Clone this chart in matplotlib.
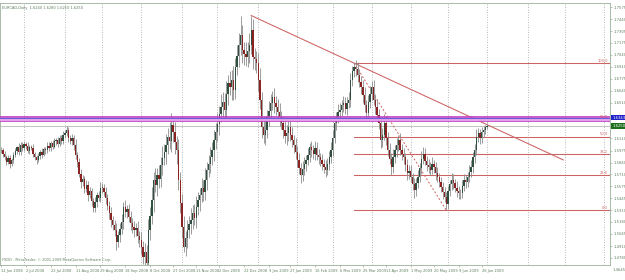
import numpy as np
import pandas as pd
import matplotlib
matplotlib.use("Agg")
import matplotlib.pyplot as plt
from matplotlib.transforms import blended_transform_factory

# EURCAD daily bars, 12 Jun 2008 .. 1 Jul 2009 (closes)
dates = pd.bdate_range("2008-06-12", "2009-07-01")
closes = [
    # Jun 2008
    1.598, 1.594, 1.590, 1.585, 1.589, 1.583, 1.587, 1.592, 1.597, 1.601, 1.596, 1.604, 1.600,
    # Jul
    1.605, 1.603, 1.597, 1.601, 1.600, 1.594, 1.590, 1.587, 1.591, 1.596, 1.593, 1.599, 1.598,
    1.603, 1.600, 1.606, 1.602, 1.608, 1.609, 1.605, 1.612, 1.608, 1.615,
    # Aug
    1.617, 1.620, 1.612, 1.608, 1.611, 1.604, 1.592, 1.585, 1.571, 1.562, 1.566, 1.555, 1.559,
    1.548, 1.552, 1.541, 1.533, 1.540, 1.548, 1.545, 1.556,
    # Sep
    1.556, 1.551, 1.545, 1.536, 1.528, 1.520, 1.514, 1.509, 1.496, 1.503, 1.510, 1.518, 1.535,
    1.529, 1.532, 1.523, 1.517, 1.512, 1.509, 1.511, 1.502, 1.498,
    # Oct
    1.490, 1.479, 1.484, 1.472, 1.509, 1.525, 1.542, 1.565, 1.559, 1.570, 1.566, 1.581, 1.589,
    1.596, 1.604, 1.613, 1.608, 1.626, 1.618, 1.607, 1.598, 1.565, 1.539,
    # Nov
    1.512, 1.490, 1.500, 1.509, 1.516, 1.520, 1.528, 1.522, 1.535, 1.542, 1.548, 1.556, 1.551,
    1.565, 1.576, 1.583, 1.590, 1.598, 1.609, 1.618,
    # Dec
    1.627, 1.638, 1.646, 1.652, 1.643, 1.660, 1.673, 1.668, 1.676, 1.665, 1.691, 1.703, 1.715,
    1.726, 1.710, 1.705, 1.702, 1.708, 1.715, 1.732, 1.702, 1.699, 1.695,
    # Jan 2009
    1.676, 1.654, 1.624, 1.615, 1.620, 1.635, 1.642, 1.651, 1.657, 1.650, 1.646, 1.640, 1.635,
    1.628, 1.620, 1.614, 1.617, 1.624, 1.615, 1.609, 1.604, 1.596,
    # Feb
    1.587, 1.578, 1.570, 1.577, 1.583, 1.587, 1.592, 1.601, 1.598, 1.594, 1.600, 1.593, 1.590,
    1.587, 1.582, 1.579, 1.576, 1.583, 1.590, 1.598,
    # Mar
    1.612, 1.628, 1.635, 1.640, 1.643, 1.648, 1.650, 1.644, 1.651, 1.654, 1.676, 1.686, 1.691,
    1.688, 1.682, 1.674, 1.668, 1.659, 1.648, 1.639, 1.652, 1.661,
    # Apr
    1.668, 1.654, 1.646, 1.637, 1.628, 1.609, 1.615, 1.628, 1.612, 1.598, 1.588, 1.579, 1.590,
    1.598, 1.604, 1.609, 1.598, 1.594, 1.590, 1.581, 1.572, 1.575,
    # May
    1.568, 1.560, 1.553, 1.561, 1.568, 1.578, 1.588, 1.594, 1.586, 1.581, 1.579, 1.576, 1.582,
    1.579, 1.572, 1.568, 1.562, 1.557, 1.551, 1.546, 1.538,
    # Jun
    1.552, 1.560, 1.565, 1.561, 1.556, 1.552, 1.550, 1.550, 1.558, 1.565, 1.563, 1.568, 1.574,
    1.579, 1.590, 1.598, 1.613, 1.617, 1.612, 1.618, 1.620, 1.624,
    # Jul
    1.625,
]
# wick lengths in pips above / below the body
wick_up = [
    30, 25, 35, 20, 40, 30, 25, 35, 30, 20, 45, 25, 30,
    35, 20, 40, 25, 30, 45, 20, 30, 35, 25, 40, 30, 20, 35, 45, 25, 30, 40, 20, 35, 30, 25, 40,
    30, 45, 35, 25, 50, 40, 60, 35, 45, 55, 40, 30, 60, 45, 50, 35, 40, 55, 30, 45, 60,
    50, 45, 60, 40, 55, 70, 45, 60, 80, 50, 65, 90, 55, 70, 45, 60, 75, 50, 65, 55, 80, 60,
    90, 70, 110, 80, 120, 100, 150, 90, 130, 80, 110, 95, 140, 85, 120, 100, 160, 130, 90, 110, 70, 120, 90,
    100, 130, 80, 110, 90, 140, 85, 100, 120, 95, 80, 110, 90, 130, 85, 100, 120, 90, 110, 100,
    120, 90, 140, 110, 100, 150, 90, 130, 110, 160, 100, 120, 130, 220, 110, 90, 130, 100, 140, 160, 120, 100, 90,
    110, 130, 90, 120, 100, 80, 110, 90, 70, 100, 80, 90, 110, 70, 80, 100, 90, 70, 80, 90, 60, 80,
    70, 80, 60, 90, 70, 60, 80, 50, 70, 60, 80, 70, 60, 50, 70, 60, 80, 60, 70, 90,
    80, 70, 60, 90, 70, 60, 80, 70, 60, 90, 80, 60, 40, 70, 80, 60, 70, 80, 90, 60, 70, 80,
    70, 80, 60, 90, 70, 60, 80, 100, 70, 60, 80, 70, 90, 60, 70, 60, 80, 70, 60, 50, 70, 60,
    60, 50, 70, 60, 80, 60, 90, 70, 60, 50, 70, 60, 80, 50, 60, 70, 50, 60, 50, 60, 50,
    60, 50, 70, 60, 50, 80, 60, 50, 70, 60, 50, 60, 70, 80, 60, 70, 80, 60, 50, 60, 50, 20,
    30,
]
wick_dn = [
    30, 40, 25, 35, 30, 45, 25, 30, 20, 35, 40, 30, 25,
    30, 40, 25, 35, 20, 40, 30, 45, 25, 30, 35, 20, 40, 30, 25, 35, 30, 20, 40, 30, 25, 35, 30,
    40, 30, 50, 35, 45, 60, 40, 55, 35, 60, 45, 50, 40, 65, 35, 50, 45, 40, 55, 35, 50,
    60, 45, 70, 50, 65, 80, 55, 70, 90, 60, 75, 50, 85, 60, 70, 55, 80, 60, 75, 65, 70, 80,
    80, 80, 90, 20, 70, 110, 90, 130, 80, 120, 100, 90, 110, 80, 140, 100, 90, 120, 110, 130, 150, 120, 110,
    120, 60, 100, 110, 90, 120, 100, 80, 110, 90, 120, 80, 100, 90, 110, 80, 100, 90, 120, 100,
    100, 120, 90, 110, 130, 100, 120, 90, 140, 110, 100, 90, 120, 110, 150, 120, 100, 110, 130, 100, 140, 120, 110,
    120, 100, 130, 90, 110, 80, 100, 90, 80, 110, 90, 80, 100, 70, 90, 80, 100, 90, 70, 80, 90, 80,
    80, 70, 90, 60, 70, 80, 60, 70, 80, 60, 70, 60, 80, 70, 60, 70, 80, 60, 70, 60,
    70, 60, 80, 70, 60, 70, 80, 60, 70, 60, 80, 70, 60, 70, 80, 60, 70, 80, 70, 60, 80, 70,
    70, 60, 80, 70, 60, 90, 70, 60, 80, 70, 60, 90, 70, 60, 80, 70, 60, 70, 80, 60, 70, 60,
    60, 70, 80, 60, 50, 60, 70, 60, 50, 60, 70, 60, 50, 60, 70, 60, 50, 60, 70, 60, 70,
    60, 50, 70, 60, 50, 60, 70, 60, 50, 60, 70, 60, 50, 60, 70, 60, 50, 60, 70, 60, 50, 40,
    30,
]

# price scale labels on the right
price_labels = [1.7575, 1.7440, 1.7305, 1.7175, 1.7040, 1.6910, 1.6775, 1.6640, 1.6510,
                1.6375, 1.6245, 1.6110, 1.5975, 1.5840, 1.5710, 1.5575, 1.5445, 1.5310,
                1.5180, 1.5045, 1.4910, 1.4780, 1.4645]
date_labels = ["12 Jun 2008", "2 Jul 2008", "22 Jul 2008", "11 Aug 2008", "29 Aug 2008",
               "18 Sep 2008", "8 Oct 2008", "27 Oct 2008", "13 Nov 2008", "2 Dec 2008",
               "22 Dec 2008", "9 Jan 2009", "27 Jan 2009", "16 Feb 2009", "6 Mar 2009",
               "25 Mar 2009", "13 Apr 2009", "1 May 2009", "20 May 2009", "9 Jun 2009",
               "26 Jun 2009"]

# drawn objects
fib_levels = [0.0, 23.6, 38.2, 50.0, 61.8, 100.0]
fib_hi_bar, fib_lo_bar = 199, 251
trend_start_bar = 141
trend_end = (317, 1.587)
zone_top, zone_bot = 1.6360, 1.6293
zone_line = 1.6343

closes = np.array(closes)
opens = np.r_[closes[0], closes[:-1]]
highs = np.maximum(opens, closes) + np.array(wick_up) / 10000
lows = np.minimum(opens, closes) - np.array(wick_dn) / 10000
idx = np.arange(len(closes))

fg = "#5F7F5F"
fib_col = "#CC6262"
xmax = 343.3
ymin, ymax = 1.46993, 1.76196

fig = plt.figure(figsize=(6.25, 2.8), dpi=100)
fig.patch.set_facecolor("white")
ax = fig.add_axes([0, 15 / 280, 610 / 625, 262 / 280])
ax.set_xlim(-0.6, xmax)
ax.set_ylim(ymin, ymax)

# month grid (extends into the empty space on the right)
cal = pd.bdate_range("2008-06-12", "2009-10-30")
month_starts = [i for i in range(1, len(cal)) if cal[i].month != cal[i - 1].month]
for m in month_starts:
    ax.axvline(m, color="#A0A0A0", lw=0.6, ls=(0, (1, 2)), zorder=0)

# candles
up = closes >= opens
ax.vlines(idx, lows, highs, color="#8C8C8C", lw=0.6, zorder=2)
body_h = np.maximum(np.abs(closes - opens), 0.0004)
ax.bar(idx[up], body_h[up], bottom=np.minimum(opens, closes)[up], width=0.75,
       color="#2F4F3F", lw=0, zorder=3)
ax.bar(idx[~up], body_h[~up], bottom=np.minimum(opens, closes)[~up], width=0.75,
       color="#8B2323", lw=0, zorder=3)

# zone band and bid line
ax.axhspan(zone_bot, zone_top, color="#C040C0", alpha=0.85, lw=0, zorder=4)
ax.axhspan(zone_bot + 0.0015, zone_top - 0.0018, color="#E4A0E8", lw=0, zorder=4)
ax.axhline(zone_line, color="#6060E0", lw=0.7, zorder=5)
ax.axhline(closes[-1], color="#B8B8B8", lw=0.6, zorder=1)

# fibonacci retracement
f_hi = highs[fib_hi_bar]
f_lo = lows[fib_lo_bar]
for lv in fib_levels:
    p = f_lo + (f_hi - f_lo) * lv / 100
    ax.plot([fib_hi_bar, xmax], [p, p], color=fib_col, lw=0.75, zorder=1)
    ax.text(xmax - 1.2, p + 0.0005, f"{lv:.1f}", color=fib_col, fontsize=2.6,
            ha="right", va="bottom", zorder=6)
ax.plot([fib_hi_bar, fib_lo_bar], [f_hi, f_lo], color=fib_col, lw=0.7,
        ls=(0, (2, 2)), zorder=1)

# trendline
ax.plot([trend_start_bar, trend_end[0]], [highs[trend_start_bar], trend_end[1]],
        color=fib_col, lw=0.75, zorder=1)

# price boxes sit on top of these scale labels
boxes = [(zone_line, "#2020C8"), (closes[-1], "#1E6E1E")]
shown = [p for p in price_labels
         if p > ymin and all(abs(p - b) > 0.004 for b, _ in boxes)]

# axes styling
for s in ax.spines.values():
    s.set_color("#9AB09A")
    s.set_linewidth(0.6)
ax.yaxis.tick_right()
ax.set_yticks(shown)
ax.set_yticklabels([f"{p:.4f}" for p in shown])
ax.tick_params(axis="y", length=1.5, width=0.5, color="#9AB09A", labelsize=2.7,
               labelcolor=fg, pad=0.8)
tr = blended_transform_factory(ax.transAxes, ax.transData)
ax.text(1.0035, price_labels[-1], f"{price_labels[-1]:.4f}", transform=tr,
        fontsize=2.7, color=fg, va="center", ha="left", clip_on=False)

tick_pos = dates.get_indexer(pd.to_datetime(date_labels, format="%d %b %Y"), method="nearest")
ax.set_xticks(tick_pos)
ax.set_xticklabels(date_labels, ha="left")
ax.tick_params(axis="x", length=1.5, width=0.5, color="#9AB09A", labelsize=2.6,
               labelcolor=fg, pad=1.2)

for price, col in boxes:
    ax.text(1.0035, price, f"{price:.4f}", transform=tr, fontsize=2.7, color="white",
            va="center", ha="left", clip_on=False, zorder=10,
            bbox=dict(boxstyle="square,pad=0.2", fc=col, ec="none"))

# header and footer texts
ax.text(0.004, 0.988, f"EURCAD,Daily  {opens[-1]:.4f} {highs[-1]:.4f} {lows[-1]:.4f} {closes[-1]:.4f}",
        transform=ax.transAxes, fontsize=2.6, color=fg, va="top", ha="left")
ax.text(0.004, 0.012, "FXDD - MetaTrader, \u00a9 2001-2009 MetaQuotes Software Corp.",
        transform=ax.transAxes, fontsize=2.5, color=fg, va="bottom", ha="left")

fig.savefig("out.png", dpi=100)
